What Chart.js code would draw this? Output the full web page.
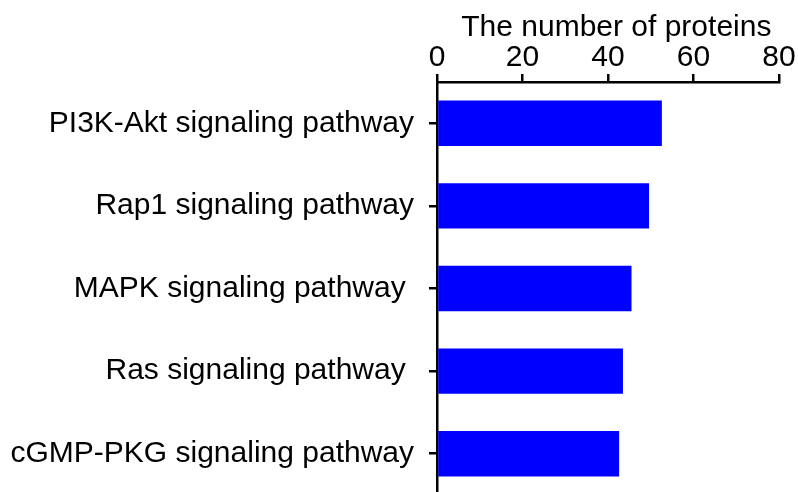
<!DOCTYPE html>
<html>
<head>
<meta charset="utf-8">
<script src="https://cdn.jsdelivr.net/npm/chart.js@4/dist/chart.umd.min.js"></script>
<style>
  html, body { margin: 0; padding: 0; background: #fff; overflow: hidden; }
  #wrap { width: 798px; height: 495px; }
</style>
</head>
<body>
<div id="wrap"><canvas id="chart"></canvas></div>
<script>
// pathway names as printed (trailing spaces keep the original's ragged right edge)
const pathways = [
  'PI3K-Akt signaling pathway',
  'Rap1 signaling pathway',
  'MAPK signaling pathway ',
  'Ras signaling pathway ',
  'cGMP-PKG signaling pathway'
]
// protein counts
const proteinCounts = [52.6, 49.6, 45.5, 43.5, 42.6]
const xTicks = [0, 20, 40, 60, 80]

const FONT = '"Liberation Sans", Arial, sans-serif'

const ctx = document.getElementById('chart').getContext('2d')
new Chart(ctx, {
  type: 'bar',
  data: {
    labels: pathways,
    datasets: [{
      label: 'The number of proteins',
      data: proteinCounts,
      backgroundColor: '#0000ff',
      borderColor: '#0000ff',
      borderWidth: 0,
      barPercentage: 0.55,
      categoryPercentage: 1
    }]
  },
  options: {
    indexAxis: 'y',
    responsive: true,
    maintainAspectRatio: false,
    devicePixelRatio: 1,
    animation: false,
    layout: { padding: { left: 0, right: 19, top: 0, bottom: 0 } },
    plugins: {
      legend: { display: false },
      tooltip: { enabled: false }
    },
    scales: {
      x: {
        position: 'top',
        min: 0,
        max: 80,
        afterBuildTicks: s => { s.ticks = xTicks.map(v => ({ value: v })) },
        afterFit: s => { s.height = 82 },
        title: {
          display: true,
          // leading spaces nudge the title right like the original
          text: '  The number of proteins',
          color: '#000',
          font: { family: FONT, size: 30 },
          padding: { top: 10, bottom: 0 }
        },
        ticks: {
          color: '#000',
          font: { family: FONT, size: 30 },
          padding: -2,
          maxRotation: 0
        },
        grid: {
          drawOnChartArea: false,
          drawTicks: true,
          tickLength: 8,
          color: '#000',
          lineWidth: 2.5
        },
        border: { display: true, color: '#000', width: 2.5 }
      },
      y: {
        afterFit: s => {
          s.width = 437
          s.paddingTop = 0
          s.paddingBottom = 0
        },
        ticks: {
          color: '#000',
          font: { family: FONT, size: 30 },
          padding: 15
        },
        grid: {
          offset: false,
          drawOnChartArea: false,
          drawTicks: true,
          tickLength: 8,
          color: '#000',
          lineWidth: 2.5
        },
        border: { display: true, color: '#000', width: 2.5 }
      }
    }
  }
})
</script>
</body>
</html>
